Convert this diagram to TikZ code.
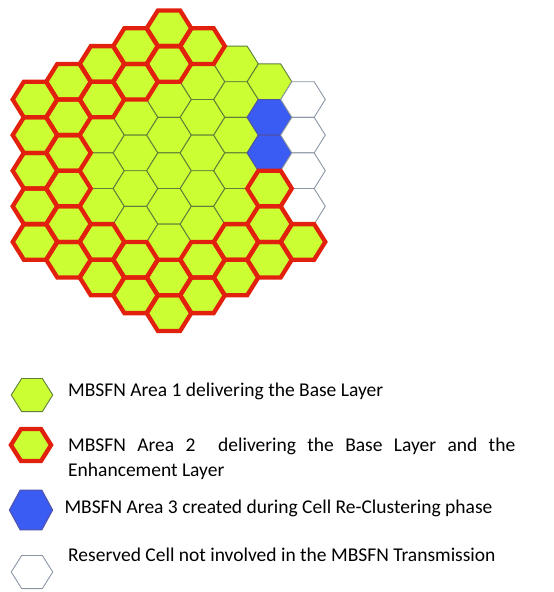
\documentclass[tikz,border=0pt]{standalone}
\usepackage{fontspec}
\setmainfont{Carlito}
\definecolor{limefill}{HTML}{CCFF33}
\definecolor{greenedge}{HTML}{5E7E3A}
\definecolor{rededge}{HTML}{E2200E}
\definecolor{bluefill}{HTML}{3A5CF2}
\definecolor{blueedge}{HTML}{5052A8}
\definecolor{greyedge}{HTML}{8A96A4}
\tikzset{
  hexa/.pic={\path[pic actions] (-22.3,0) -- (-11.15,-17.8) -- (11.15,-17.8) -- (22.3,0) -- (11.15,17.8) -- (-11.15,17.8) -- cycle;},
  p1G/.style={fill=limefill,draw=greenedge,line width=0.9pt},
  p1B/.style={fill=bluefill,draw=blueedge,line width=1pt},
  p1W/.style={fill=white,draw=greyedge,line width=0.9pt},
  p1R/.style={fill=limefill},
  p2G/.style={},
  p2B/.style={},
  p2W/.style={},
  p2R/.style={draw=rededge,line width=4.3pt},
  legtext/.style={anchor=base west,inner sep=0pt,font=\fontsize{19.5}{23}\selectfont}
}
\begin{document}
\begin{tikzpicture}[x=1pt,y=-1pt]
\useasboundingbox (0,0) rectangle (554,592);
\foreach \pass in {1,2}{
\foreach \c/\n/\list in {0/5/{R,R,R,R,R},1/6/{R,R,R,R,R,R},2/7/{R,R,G,G,G,R,R},3/8/{R,R,G,G,G,G,R,R},4/9/{R,R,G,G,G,G,G,R,R},5/8/{R,G,G,G,G,G,R,R},6/7/{G,G,G,G,G,R,R},7/6/{G,B,B,R,R,R},8/5/{W,W,W,W,R}}{
  \foreach \t [count=\k from 0] in \list {
    \pic[p\pass\t] at ({35+33.5*\c},{170.7+(\k-(\n-1)/2)*35.6}) {hexa};
  }
}}
% legend
\pic[p1G,scale=0.93] (l1) at (32,395) {hexa};
\pic[p1R,scale=0.93] (l2f) at (31,445) {hexa};
\pic[p2R,scale=0.9] (l2) at (31,445) {hexa};
\pic[p1B,xscale=0.97,yscale=1.12] (l3) at (31,510) {hexa};
\pic[p1W,scale=0.93] (l4) at (32,572) {hexa};
\node[legtext] (t1) at (68,396.7) {MBSFN Area 1 delivering the Base Layer};
\node[legtext] (t2) at (68,451.7) {\hbox to 447pt{MBSFN\hfill Area\hfill 2\hfill\hfill delivering\hfill the\hfill Base\hfill Layer\hfill and\hfill the}};
\node[legtext] (t2b) at (68,476) {Enhancement Layer};
\node[legtext] (t3) at (64.3,513) {MBSFN Area 3 created during Cell Re-Clustering phase};
\node[legtext] (t4) at (68,561) {Reserved Cell not involved in the MBSFN Transmission};
\end{tikzpicture}
\end{document}
